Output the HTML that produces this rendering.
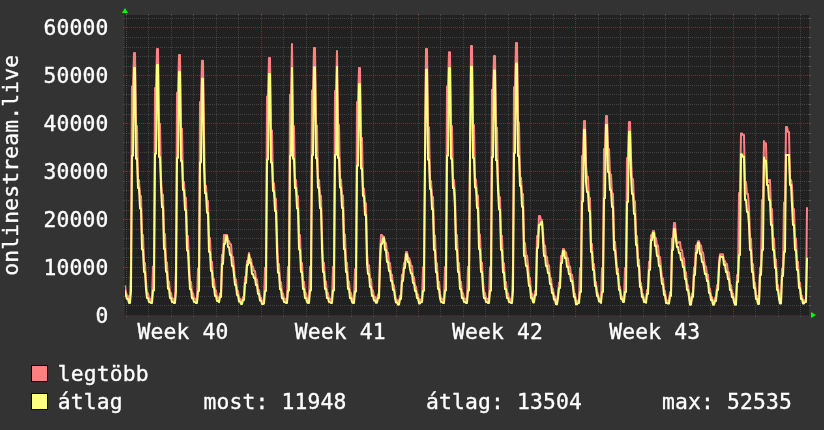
<!DOCTYPE html>
<html><head><meta charset="utf-8"><title>onlinestream.live</title>
<style>
html,body{margin:0;padding:0;background:#333333;}
svg{display:block}
text{font-family:"DejaVu Sans Mono","Liberation Mono",monospace;font-size:21.33px;fill:#fff;stroke:#fff;stroke-width:.35px;white-space:pre;letter-spacing:.158px}
.g{stroke:#8f8f8f;stroke-opacity:.30;stroke-width:1;stroke-dasharray:1 1}
.mg{stroke:#de4f4f;stroke-opacity:.40;stroke-width:1;stroke-dasharray:1 1}
.gt{stroke:#8f8f8f;stroke-opacity:.30;stroke-width:1}
.mt{stroke:#de4f4f;stroke-opacity:.40;stroke-width:1}
.s{fill:none;stroke-width:2;stroke-linejoin:round;stroke-linecap:round}
</style></head><body>
<svg width="824" height="430" viewBox="0 0 824 430">
<rect width="824" height="430" fill="#333333"/>
<rect x="125" y="15" width="684" height="300" fill="#212121"/>
<g><path d="M123 315.5H811" class="mg"/><path d="M123 315.5H125M809 315.5H811" class="mt"/><path d="M124 305.5H811" class="g"/><path d="M123 305.5H125M809 305.5H811" class="gt"/><path d="M124 296.5H811" class="g"/><path d="M123 296.5H125M809 296.5H811" class="gt"/><path d="M124 286.5H811" class="g"/><path d="M123 286.5H125M809 286.5H811" class="gt"/><path d="M124 277.5H811" class="g"/><path d="M123 277.5H125M809 277.5H811" class="gt"/><path d="M123 267.5H811" class="mg"/><path d="M123 267.5H125M809 267.5H811" class="mt"/><path d="M124 257.5H811" class="g"/><path d="M123 257.5H125M809 257.5H811" class="gt"/><path d="M124 248.5H811" class="g"/><path d="M123 248.5H125M809 248.5H811" class="gt"/><path d="M124 238.5H811" class="g"/><path d="M123 238.5H125M809 238.5H811" class="gt"/><path d="M124 229.5H811" class="g"/><path d="M123 229.5H125M809 229.5H811" class="gt"/><path d="M123 219.5H811" class="mg"/><path d="M123 219.5H125M809 219.5H811" class="mt"/><path d="M124 210.5H811" class="g"/><path d="M123 210.5H125M809 210.5H811" class="gt"/><path d="M124 200.5H811" class="g"/><path d="M123 200.5H125M809 200.5H811" class="gt"/><path d="M124 190.5H811" class="g"/><path d="M123 190.5H125M809 190.5H811" class="gt"/><path d="M124 181.5H811" class="g"/><path d="M123 181.5H125M809 181.5H811" class="gt"/><path d="M123 171.5H811" class="mg"/><path d="M123 171.5H125M809 171.5H811" class="mt"/><path d="M124 162.5H811" class="g"/><path d="M123 162.5H125M809 162.5H811" class="gt"/><path d="M124 152.5H811" class="g"/><path d="M123 152.5H125M809 152.5H811" class="gt"/><path d="M124 142.5H811" class="g"/><path d="M123 142.5H125M809 142.5H811" class="gt"/><path d="M124 133.5H811" class="g"/><path d="M123 133.5H125M809 133.5H811" class="gt"/><path d="M123 123.5H811" class="mg"/><path d="M123 123.5H125M809 123.5H811" class="mt"/><path d="M124 114.5H811" class="g"/><path d="M123 114.5H125M809 114.5H811" class="gt"/><path d="M124 104.5H811" class="g"/><path d="M123 104.5H125M809 104.5H811" class="gt"/><path d="M124 94.5H811" class="g"/><path d="M123 94.5H125M809 94.5H811" class="gt"/><path d="M124 85.5H811" class="g"/><path d="M123 85.5H125M809 85.5H811" class="gt"/><path d="M123 75.5H811" class="mg"/><path d="M123 75.5H125M809 75.5H811" class="mt"/><path d="M124 66.5H811" class="g"/><path d="M123 66.5H125M809 66.5H811" class="gt"/><path d="M124 56.5H811" class="g"/><path d="M123 56.5H125M809 56.5H811" class="gt"/><path d="M124 47.5H811" class="g"/><path d="M123 47.5H125M809 47.5H811" class="gt"/><path d="M124 37.5H811" class="g"/><path d="M123 37.5H125M809 37.5H811" class="gt"/><path d="M123 27.5H811" class="mg"/><path d="M123 27.5H125M809 27.5H811" class="mt"/><path d="M124 18.5H811" class="g"/><path d="M123 18.5H125M809 18.5H811" class="gt"/></g>
<g><path d="M126.5 15V316" class="g"/><path d="M126.5 14V15M126.5 316V317.3" class="gt"/><path d="M148.5 15V316" class="g"/><path d="M148.5 14V15M148.5 316V317.3" class="gt"/><path d="M171.5 15V316" class="g"/><path d="M171.5 14V15M171.5 316V317.3" class="gt"/><path d="M193.5 15V316" class="g"/><path d="M193.5 14V15M193.5 316V317.3" class="gt"/><path d="M216.5 15V316" class="g"/><path d="M216.5 14V15M216.5 316V317.3" class="gt"/><path d="M238.5 15V316" class="g"/><path d="M238.5 14V15M238.5 316V317.3" class="gt"/><path d="M261.5 15V316" class="mg"/><path d="M261.5 14V15M261.5 316V317.3" class="mt"/><path d="M283.5 15V316" class="g"/><path d="M283.5 14V15M283.5 316V317.3" class="gt"/><path d="M306.5 15V316" class="g"/><path d="M306.5 14V15M306.5 316V317.3" class="gt"/><path d="M328.5 15V316" class="g"/><path d="M328.5 14V15M328.5 316V317.3" class="gt"/><path d="M351.5 15V316" class="g"/><path d="M351.5 14V15M351.5 316V317.3" class="gt"/><path d="M373.5 15V316" class="g"/><path d="M373.5 14V15M373.5 316V317.3" class="gt"/><path d="M396.5 15V316" class="g"/><path d="M396.5 14V15M396.5 316V317.3" class="gt"/><path d="M418.5 15V316" class="mg"/><path d="M418.5 14V15M418.5 316V317.3" class="mt"/><path d="M440.5 15V316" class="g"/><path d="M440.5 14V15M440.5 316V317.3" class="gt"/><path d="M463.5 15V316" class="g"/><path d="M463.5 14V15M463.5 316V317.3" class="gt"/><path d="M485.5 15V316" class="g"/><path d="M485.5 14V15M485.5 316V317.3" class="gt"/><path d="M508.5 15V316" class="g"/><path d="M508.5 14V15M508.5 316V317.3" class="gt"/><path d="M530.5 15V316" class="g"/><path d="M530.5 14V15M530.5 316V317.3" class="gt"/><path d="M553.5 15V316" class="g"/><path d="M553.5 14V15M553.5 316V317.3" class="gt"/><path d="M575.5 15V316" class="mg"/><path d="M575.5 14V15M575.5 316V317.3" class="mt"/><path d="M598.5 15V316" class="g"/><path d="M598.5 14V15M598.5 316V317.3" class="gt"/><path d="M620.5 15V316" class="g"/><path d="M620.5 14V15M620.5 316V317.3" class="gt"/><path d="M643.5 15V316" class="g"/><path d="M643.5 14V15M643.5 316V317.3" class="gt"/><path d="M665.5 15V316" class="g"/><path d="M665.5 14V15M665.5 316V317.3" class="gt"/><path d="M688.5 15V316" class="g"/><path d="M688.5 14V15M688.5 316V317.3" class="gt"/><path d="M710.5 15V316" class="g"/><path d="M710.5 14V15M710.5 316V317.3" class="gt"/><path d="M733.5 15V316" class="mg"/><path d="M733.5 14V15M733.5 316V317.3" class="mt"/><path d="M755.5 15V316" class="g"/><path d="M755.5 14V15M755.5 316V317.3" class="gt"/><path d="M778.5 15V316" class="g"/><path d="M778.5 14V15M778.5 316V317.3" class="gt"/><path d="M800.5 15V316" class="g"/><path d="M800.5 14V15M800.5 316V317.3" class="gt"/></g>
<path d="M121 315.5H813M124.5 11V319" stroke="#242424" stroke-opacity=".6" stroke-width="1" fill="none"/>
<clipPath id="c"><rect x="125" y="15" width="684" height="300"/></clipPath>
<g clip-path="url(#c)">
<polyline class="s" stroke="#ff8080" points="125,286.0 126,292.0 127,296.0 128,296.0 129,300.5 130,300.5 131,266.9 132,86.5 133,86.5 134,53.0 135,53.0 136,125.9 137,125.9 138,180.1 139,180.1 140,196.1 141,196.1 142,235.0 143,235.0 144,262.9 145,262.9 146,281.7 147,293.2 148,293.2 149,298.6 150,298.6 151,300.4 152,300.4 153,266.4 154,266.4 155,88.0 156,88.0 157,49.0 158,49.0 159,123.7 160,123.7 161,178.5 162,194.7 163,194.7 164,234.1 165,234.1 166,262.4 167,262.4 168,281.4 169,281.4 170,293.0 171,293.0 172,298.5 173,298.5 174,300.4 175,300.4 176,267.5 177,92.8 178,92.8 179,55.0 180,55.0 181,128.8 182,128.8 183,182.1 184,182.1 185,197.8 186,197.8 187,236.1 188,236.1 189,263.5 190,282.0 191,282.0 192,293.3 193,293.3 194,298.6 195,298.6 196,300.5 197,300.5 198,268.5 199,268.5 200,102.0 201,102.0 202,60.8 203,60.8 204,134.0 205,185.7 206,185.7 207,200.9 208,200.9 209,238.1 210,238.1 211,261.7 212,261.7 213,279.0 214,279.0 215,290.5 216,290.5 217,297.4 218,297.4 219,299.5 220,293.4 221,293.4 222,254.8 223,254.8 224,234.9 225,234.9 226,234.9 227,234.9 228,241.0 229,241.0 230,244.2 231,244.2 232,257.1 233,257.1 234,267.6 235,279.3 236,279.3 237,291.0 238,291.0 239,298.6 240,298.6 241,301.6 242,301.6 243,296.9 244,296.9 245,277.0 246,277.0 247,261.0 248,261.0 249,252.9 250,259.0 251,259.0 252,266.5 253,266.5 254,271.1 255,271.1 256,279.3 257,279.3 258,289.9 259,289.9 260,297.5 261,297.5 262,301.6 263,301.6 264,301.0 265,267.8 266,267.8 267,96.5 268,96.5 269,58.0 270,58.0 271,130.4 272,130.4 273,183.2 274,183.2 275,198.8 276,198.8 277,236.7 278,263.9 279,263.9 280,282.2 281,282.2 282,293.4 283,293.4 284,298.7 285,298.7 286,300.5 287,300.5 288,266.9 289,266.9 290,94.8 291,94.8 292,44.0 293,125.9 294,125.9 295,180.1 296,180.1 297,196.1 298,196.1 299,235.0 300,235.0 301,262.9 302,262.9 303,281.7 304,281.7 305,293.2 306,293.2 307,298.6 308,300.4 309,300.4 310,266.8 311,266.8 312,90.5 313,90.5 314,48.0 315,48.0 316,125.4 317,125.4 318,179.7 319,179.7 320,195.7 321,195.7 322,234.8 323,262.8 324,262.8 325,281.6 326,281.6 327,293.1 328,293.1 329,298.5 330,298.5 331,300.4 332,300.4 333,266.7 334,266.7 335,91.0 336,91.0 337,51.0 338,125.0 339,125.0 340,179.5 341,179.5 342,195.5 343,195.5 344,234.6 345,234.6 346,262.7 347,262.7 348,281.6 349,281.6 350,293.1 351,293.1 352,298.5 353,300.4 354,300.4 355,269.3 356,269.3 357,102.0 358,102.0 359,68.0 360,68.0 361,138.0 362,138.0 363,188.5 364,188.5 365,203.3 366,203.3 367,252.7 368,265.3 369,265.3 370,279.0 371,279.0 372,290.5 373,290.5 374,296.8 375,296.8 376,300.3 377,300.3 378,294.5 379,294.5 380,253.6 381,234.9 382,234.9 383,236.8 384,236.8 385,243.0 386,243.0 387,252.4 388,252.4 389,263.0 390,263.0 391,274.7 392,274.7 393,285.2 394,285.2 395,294.5 396,299.8 397,299.8 398,302.4 399,302.4 400,295.7 401,295.7 402,274.7 403,274.7 404,263.0 405,263.0 406,251.9 407,251.9 408,258.0 409,258.0 410,260.6 411,265.9 412,265.9 413,277.0 414,277.0 415,286.4 416,286.4 417,294.5 418,294.5 419,301.0 420,301.0 421,299.2 422,299.2 423,267.2 424,267.2 425,156.8 426,49.0 427,49.0 428,127.2 429,127.2 430,181.0 431,181.0 432,196.9 433,196.9 434,235.5 435,235.5 436,263.2 437,263.2 438,281.8 439,281.8 440,293.2 441,298.6 442,298.6 443,300.4 444,300.4 445,266.9 446,266.9 447,86.5 448,86.5 449,52.2 450,52.2 451,125.9 452,125.9 453,180.1 454,180.1 455,196.1 456,235.0 457,235.0 458,262.9 459,262.9 460,281.7 461,281.7 462,293.2 463,293.2 464,298.6 465,298.6 466,300.4 467,300.4 468,266.7 469,266.7 470,154.9 471,46.0 472,46.0 473,125.0 474,125.0 475,179.5 476,179.5 477,195.5 478,195.5 479,234.6 480,234.6 481,262.7 482,262.7 483,281.6 484,293.1 485,293.1 486,298.5 487,298.5 488,300.4 489,300.4 490,267.3 491,267.3 492,89.7 493,89.7 494,56.0 495,56.0 496,127.8 497,127.8 498,181.4 499,197.2 500,197.2 501,235.7 502,235.7 503,263.3 504,263.3 505,281.9 506,281.9 507,293.3 508,293.3 509,298.6 510,298.6 511,300.5 512,300.5 513,266.2 514,87.2 515,87.2 516,43.0 517,43.0 518,122.5 519,122.5 520,177.8 521,177.8 522,194.0 523,194.0 524,242.9 525,242.9 526,255.6 527,255.6 528,264.9 529,277.7 530,277.7 531,293.6 532,293.6 533,299.8 534,299.8 535,291.0 536,291.0 537,236.0 538,236.0 539,216.0 540,216.0 541,220.0 542,220.0 543,232.0 544,245.4 545,245.4 546,257.1 547,257.1 548,265.3 549,265.3 550,278.2 551,278.2 552,288.7 553,288.7 554,296.3 555,296.3 556,301.9 557,301.9 558,294.5 559,282.8 560,282.8 561,256.0 562,256.0 563,249.1 564,249.1 565,252.2 566,252.2 567,258.3 568,258.3 569,266.5 570,266.5 571,274.7 572,274.7 573,281.7 574,293.4 575,293.4 576,301.9 577,301.9 578,300.4 579,300.4 580,268.0 581,268.0 582,156.0 583,156.0 584,121.0 585,121.0 586,165.5 587,176.7 588,176.7 589,198.0 590,198.0 591,243.9 592,243.9 593,264.1 594,264.1 595,282.0 596,282.0 597,293.2 598,293.2 599,299.3 600,299.3 601,301.0 602,268.0 603,268.0 604,149.0 605,149.0 606,116.0 607,116.0 608,149.0 609,149.0 610,174.5 611,174.5 612,193.5 613,193.5 614,241.7 615,241.7 616,255.1 617,268.5 618,268.5 619,286.5 620,286.5 621,296.5 622,296.5 623,299.9 624,299.9 625,268.0 626,268.0 627,158.0 628,158.0 629,122.0 630,122.0 631,157.7 632,178.9 633,178.9 634,201.3 635,201.3 636,236.1 637,236.1 638,259.6 639,259.6 640,283.1 641,283.1 642,294.3 643,294.3 644,299.9 645,299.9 646,300.8 647,289.9 648,289.9 649,261.8 650,261.8 651,235.2 652,235.2 653,231.0 654,231.0 655,238.0 656,238.0 657,245.4 658,245.4 659,257.1 660,257.1 661,267.6 662,278.2 663,278.2 664,291.0 665,291.0 666,300.4 667,300.4 668,301.0 669,301.0 670,292.2 671,292.2 672,238.4 673,238.4 674,222.9 675,222.9 676,236.0 677,243.0 678,243.0 679,241.9 680,241.9 681,250.1 682,250.1 683,258.3 684,258.3 685,272.3 686,272.3 687,285.2 688,285.2 689,293.4 690,302.4 691,302.4 692,293.4 693,293.4 694,267.6 695,267.6 696,245.4 697,245.4 698,241.2 699,241.2 700,245.4 701,245.4 702,252.4 703,252.4 704,259.4 705,266.5 706,266.5 707,274.7 708,274.7 709,288.7 710,288.7 711,296.9 712,296.9 713,302.4 714,302.4 715,298.1 716,298.1 717,285.2 718,285.2 719,262.0 720,254.3 721,254.3 722,254.3 723,254.3 724,261.0 725,261.0 726,264.1 727,264.1 728,272.3 729,272.3 730,285.2 731,285.2 732,293.4 733,293.4 734,299.2 735,302.4 736,302.4 737,275.0 738,275.0 739,193.0 740,193.0 741,133.4 742,133.4 743,135.0 744,135.0 745,182.0 746,182.0 747,193.9 748,193.9 749,209.1 750,238.4 751,238.4 752,264.1 753,264.1 754,282.8 755,282.8 756,295.7 757,295.7 758,301.6 759,301.6 760,267.6 761,267.6 762,200.0 763,200.0 764,141.0 765,143.5 766,143.5 767,182.0 768,182.0 769,179.9 770,179.9 771,209.1 772,209.1 773,238.4 774,238.4 775,259.4 776,259.4 777,285.2 778,285.2 779,295.7 780,301.0 781,301.0 782,268.8 783,268.8 784,202.5 785,202.5 786,127.0 787,127.0 788,132.0 789,132.0 790,180.0 791,180.0 792,185.7 793,209.1 794,209.1 795,238.4 796,238.4 797,261.8 798,261.8 799,282.8 800,282.8 801,295.7 802,295.7 803,301.0 804,301.0 805,300.0 806,300.0 807,208.0"/>
<polyline class="s" stroke="#ffff80" points="125,291.0 126,296.0 127,299.0 128,299.0 129,303.0 130,303.0 131,290.6 132,155.7 133,155.7 134,68.0 135,68.0 136,158.8 137,158.8 138,188.1 139,188.1 140,208.5 141,208.5 142,249.5 143,249.5 144,272.0 145,272.0 146,288.9 147,298.1 148,298.1 149,302.1 150,302.1 151,303.0 152,303.0 153,290.4 154,290.4 155,153.8 156,153.8 157,65.0 158,65.0 159,156.9 160,156.9 161,186.6 162,207.3 163,207.3 164,248.9 165,248.9 166,271.7 167,271.7 168,288.8 169,288.8 170,298.0 171,298.0 172,302.1 173,302.1 174,303.0 175,303.0 176,290.8 177,158.1 178,158.1 179,71.8 180,71.8 181,161.1 182,161.1 183,189.9 184,189.9 185,210.0 186,210.0 187,250.4 188,250.4 189,272.5 190,289.2 191,289.2 192,298.2 193,298.2 194,302.1 195,302.1 196,303.0 197,303.0 198,291.1 199,291.1 200,162.4 201,162.4 202,78.7 203,78.7 204,165.3 205,193.3 206,193.3 207,212.8 208,212.8 209,252.0 210,252.0 211,271.0 212,271.0 213,287.0 214,287.0 215,296.0 216,296.0 217,301.0 218,301.0 219,302.2 220,297.0 221,297.0 222,264.0 223,264.0 224,244.0 225,244.0 226,236.0 227,236.0 228,247.0 229,247.0 230,255.0 231,255.0 232,266.0 233,266.0 234,275.0 235,285.0 236,285.0 237,295.0 238,295.0 239,301.5 240,301.5 241,304.0 242,304.0 243,300.0 244,300.0 245,283.0 246,283.0 247,265.0 248,265.0 249,254.8 250,263.0 251,263.0 252,274.0 253,274.0 254,278.0 255,278.0 256,285.0 257,285.0 258,294.0 259,294.0 260,300.5 261,300.5 262,304.0 263,304.0 264,303.5 265,290.9 266,290.9 267,159.5 268,159.5 269,74.0 270,74.0 271,162.4 272,162.4 273,191.0 274,191.0 275,210.9 276,210.9 277,250.9 278,272.8 279,272.8 280,289.3 281,289.3 282,298.2 283,298.2 284,302.1 285,302.1 286,303.0 287,303.0 288,290.6 289,290.6 290,155.7 291,155.7 292,68.0 293,158.8 294,158.8 295,188.1 296,188.1 297,208.5 298,208.5 299,249.5 300,249.5 301,272.0 302,272.0 303,288.9 304,288.9 305,298.1 306,298.1 307,302.1 308,303.0 309,303.0 310,290.5 311,290.5 312,155.2 313,155.2 314,67.2 315,67.2 316,158.3 317,158.3 318,187.7 319,187.7 320,208.2 321,208.2 322,249.4 323,272.0 324,272.0 325,288.9 326,288.9 327,298.1 328,298.1 329,302.1 330,302.1 331,303.0 332,303.0 333,290.5 334,290.5 335,154.9 336,154.9 337,66.8 338,158.0 339,158.0 340,187.5 341,187.5 342,208.0 343,208.0 344,249.3 345,249.3 346,271.9 347,271.9 348,288.9 349,288.9 350,298.1 351,298.1 352,302.1 353,303.0 354,303.0 355,291.4 356,291.4 357,165.7 358,165.7 359,84.0 360,84.0 361,168.6 362,168.6 363,195.9 364,195.9 365,214.9 366,214.9 367,264.0 368,274.0 369,274.0 370,287.0 371,287.0 372,296.0 373,296.0 374,300.5 375,300.5 376,302.8 377,302.8 378,298.0 379,298.0 380,263.0 381,244.0 382,244.0 383,238.2 384,238.2 385,250.0 386,250.0 387,262.0 388,262.0 389,271.0 390,271.0 391,281.0 392,281.0 393,290.0 394,290.0 395,298.0 396,302.5 397,302.5 398,304.7 399,304.7 400,299.0 401,299.0 402,281.0 403,281.0 404,268.0 405,268.0 406,254.3 407,254.3 408,262.0 409,262.0 410,269.0 411,273.5 412,273.5 413,283.0 414,283.0 415,291.0 416,291.0 417,298.0 418,298.0 419,303.5 420,303.5 421,302.0 422,302.0 423,290.7 424,290.7 425,156.8 426,69.8 427,69.8 428,159.8 429,159.8 430,188.9 431,188.9 432,209.2 433,209.2 434,249.9 435,249.9 436,272.3 437,272.3 438,289.0 439,289.0 440,298.1 441,302.1 442,302.1 443,303.0 444,303.0 445,290.6 446,290.6 447,155.7 448,155.7 449,68.0 450,68.0 451,158.8 452,158.8 453,188.1 454,188.1 455,208.5 456,249.5 457,249.5 458,272.0 459,272.0 460,288.9 461,288.9 462,298.1 463,298.1 464,302.1 465,302.1 466,303.0 467,303.0 468,290.5 469,290.5 470,154.9 471,66.8 472,66.8 473,158.0 474,158.0 475,187.5 476,187.5 477,208.0 478,208.0 479,249.3 480,249.3 481,271.9 482,271.9 483,288.9 484,298.1 485,298.1 486,302.1 487,302.1 488,303.0 489,303.0 490,290.7 491,290.7 492,157.3 493,157.3 494,70.5 495,70.5 496,160.3 497,160.3 498,189.3 499,209.5 500,209.5 501,250.1 502,250.1 503,272.4 504,272.4 505,289.1 506,289.1 507,298.1 508,298.1 509,302.1 510,302.1 511,303.0 512,303.0 513,290.3 514,152.9 515,152.9 516,63.5 517,63.5 518,156.0 519,156.0 520,185.9 521,185.9 522,206.7 523,206.7 524,256.0 525,256.0 526,266.0 527,266.0 528,276.0 529,286.0 530,286.0 531,298.0 532,298.0 533,302.4 534,302.4 535,295.0 536,295.0 537,248.0 538,248.0 539,225.0 540,225.0 541,222.1 542,222.1 543,240.0 544,256.0 545,256.0 546,266.0 547,266.0 548,273.0 549,273.0 550,284.0 551,284.0 552,293.0 553,293.0 554,299.5 555,299.5 556,304.3 557,304.3 558,298.0 559,288.0 560,288.0 561,263.0 562,263.0 563,251.0 564,251.0 565,258.0 566,258.0 567,267.0 568,267.0 569,274.0 570,274.0 571,281.0 572,281.0 573,287.0 574,297.0 575,297.0 576,304.3 577,304.3 578,303.0 579,303.0 580,292.0 581,292.0 582,201.5 583,201.5 584,129.8 585,129.8 586,182.0 587,192.0 588,192.0 589,211.0 590,211.0 591,252.0 592,252.0 593,270.0 594,270.0 595,286.0 596,286.0 597,296.0 598,296.0 599,301.5 600,301.5 601,303.0 602,292.0 603,292.0 604,198.3 605,198.3 606,124.8 607,124.8 608,172.0 609,172.0 610,190.0 611,190.0 612,207.0 613,207.0 614,250.0 615,250.0 616,262.0 617,274.0 618,274.0 619,290.0 620,290.0 621,299.0 622,299.0 623,302.0 624,302.0 625,292.0 626,292.0 627,202.0 628,202.0 629,131.7 630,131.7 631,175.0 632,194.0 633,194.0 634,214.0 635,214.0 636,245.0 637,245.0 638,266.0 639,266.0 640,287.0 641,287.0 642,297.0 643,297.0 644,302.0 645,302.0 646,302.8 647,294.0 648,294.0 649,270.0 650,270.0 651,240.0 652,240.0 653,233.0 654,233.0 655,246.0 656,246.0 657,256.0 658,256.0 659,266.0 660,266.0 661,275.0 662,284.0 663,284.0 664,295.0 665,295.0 666,303.0 667,303.0 668,303.5 669,303.5 670,296.0 671,296.0 672,250.0 673,250.0 674,229.0 675,229.0 676,240.0 677,247.0 678,247.0 679,253.0 680,253.0 681,260.0 682,260.0 683,267.0 684,267.0 685,279.0 686,279.0 687,290.0 688,290.0 689,297.0 690,304.7 691,304.7 692,297.0 693,297.0 694,275.0 695,275.0 696,253.0 697,253.0 698,243.1 699,243.1 700,254.0 701,254.0 702,262.0 703,262.0 704,268.0 705,274.0 706,274.0 707,281.0 708,281.0 709,293.0 710,293.0 711,300.0 712,300.0 713,304.7 714,304.7 715,301.0 716,301.0 717,290.0 718,290.0 719,268.0 720,256.5 721,256.5 722,257.0 723,257.0 724,265.0 725,265.0 726,272.0 727,272.0 728,279.0 729,279.0 730,290.0 731,290.0 732,297.0 733,297.0 734,302.0 735,304.7 736,304.7 737,282.0 738,282.0 739,255.0 740,255.0 741,154.3 742,154.3 743,156.8 744,156.8 745,200.0 746,200.0 747,212.0 748,212.0 749,225.0 750,250.0 751,250.0 752,272.0 753,272.0 754,288.0 755,288.0 756,299.0 757,299.0 758,304.0 759,304.0 760,275.0 761,275.0 762,250.0 763,250.0 764,157.5 765,161.0 766,161.0 767,185.0 768,185.0 769,200.0 770,200.0 771,225.0 772,225.0 773,250.0 774,250.0 775,268.0 776,268.0 777,290.0 778,290.0 779,299.0 780,303.5 781,303.5 782,276.0 783,276.0 784,252.0 785,252.0 786,155.0 787,155.0 788,155.0 789,155.0 790,185.0 791,185.0 792,205.0 793,225.0 794,225.0 795,250.0 796,250.0 797,270.0 798,270.0 799,288.0 800,288.0 801,299.0 802,299.0 803,303.5 804,303.5 805,302.0 806,302.0 807,258.6"/>
</g>
<polygon points="125,8 122,13 128,13" fill="#00ff00"/>
<polygon points="816,315.1 811,312.1 811,318.1" fill="#00ff00"/>
<g style="opacity:.999"><text x="108.5" y="323.1" text-anchor="end">0</text><text x="108.5" y="275.1" text-anchor="end">10000</text><text x="108.5" y="227.1" text-anchor="end">20000</text><text x="108.5" y="179.1" text-anchor="end">30000</text><text x="108.5" y="131.1" text-anchor="end">40000</text><text x="108.5" y="83.1" text-anchor="end">50000</text><text x="108.5" y="35.1" text-anchor="end">60000</text>
<text x="182.9" y="338.9" text-anchor="middle">Week 40</text><text x="340.2" y="338.9" text-anchor="middle">Week 41</text><text x="497.5" y="338.9" text-anchor="middle">Week 42</text><text x="654.8" y="338.9" text-anchor="middle">Week 43</text>
<text transform="translate(18.4,165.3) rotate(-90)" text-anchor="middle">onlinestream.live</text>
<rect x="31.5" y="365.5" width="16" height="16" fill="#ff8080" stroke="#0c0c0c" stroke-width="1"/>
<rect x="31.5" y="393.5" width="16" height="16" fill="#ffff80" stroke="#0c0c0c" stroke-width="1"/>
<text x="57.8" y="381">legtöbb</text>
<text x="57.8" y="409">átlag</text>
<text x="203.4" y="409">most: 11948</text>
<text x="426" y="409">átlag: 13504</text>
<text x="662" y="409">max: 52535</text></g>
</svg>
</body></html>
